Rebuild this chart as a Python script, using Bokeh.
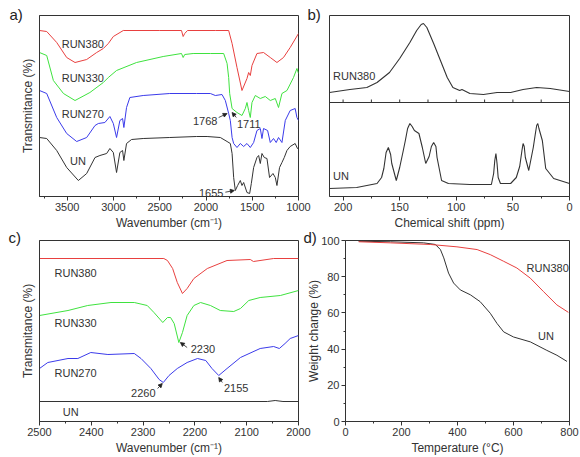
from bokeh.plotting import figure
from bokeh.layouts import row, column
from bokeh.models import Range1d, FixedTicker, Label, Arrow, NormalHead, Span, Title
from bokeh.embed import file_html
from bokeh.resources import INLINE

# ---------------- data ----------------
a_wn_380 = [3800, 3722, 3614, 3506, 3416, 3290, 3182, 3110, 3056, 3002, 2894, 2500, 2265, 2247, 2230, 2200, 1900,
            1755, 1718, 1665, 1611, 1557, 1539, 1521, 1503, 1449, 1378, 1305, 1233, 1162, 1090, 1000]
a_t_380 = [166, 165, 154, 139, 134, 137, 144, 148, 153, 160, 166, 166, 166, 160, 163, 166, 166,
           166, 153, 129, 106, 118, 124, 121, 131, 143, 144, 139, 134, 139, 149, 163]
a_wn_330 = [3800, 3722, 3650, 3541, 3416, 3255, 3110, 3056, 2967, 2751, 2463, 2265, 2247, 2230, 2139, 1953, 1809,
            1772, 1755, 1744, 1718, 1665, 1611, 1575, 1557, 1539, 1521, 1503, 1467, 1413, 1359, 1305, 1251,
            1216, 1179, 1125, 1054, 1017, 1000]
a_t_330 = [144, 141, 116, 103, 96, 104, 114, 119, 126, 134, 140, 143, 139, 142, 143, 143, 143,
           133, 119, 103, 88, 84, 81, 88, 94, 86, 79, 94, 101, 98, 100, 96, 98,
           89, 103, 106, 119, 128, 123]
a_wn_270 = [3800, 3722, 3614, 3506, 3398, 3290, 3200, 3164, 3093, 3039, 3002, 2967, 2931, 2902, 2888, 2859, 2823,
            2679, 2392, 2104, 1953, 1899, 1827, 1791, 1755, 1737, 1718, 1701, 1665, 1629, 1593, 1557, 1521,
            1485, 1449, 1413, 1395, 1378, 1334, 1305, 1270, 1241, 1216, 1179, 1143, 1090, 1036, 1017, 1000]
a_t_270 = [106, 103, 79, 63, 55, 59, 71, 73, 74, 80, 73, 59, 76, 78, 69, 89, 99,
           101, 103, 103, 103, 101, 102, 96, 83, 76, 59, 53, 49, 53, 50, 53, 49,
           54, 66, 68, 58, 68, 66, 54, 58, 54, 59, 54, 76, 86, 88, 79, 76]
a_wn_un = [3800, 3722, 3614, 3506, 3380, 3290, 3200, 3147, 3074, 3039, 3002, 2967, 2931, 2902, 2888, 2859, 2805,
           2679, 2392, 2104, 1988, 1845, 1772, 1737, 1718, 1701, 1683, 1658, 1629, 1611, 1593, 1557, 1528,
           1510, 1485, 1449, 1431, 1413, 1395, 1370, 1341, 1313, 1276, 1251, 1233, 1205, 1179, 1154, 1125,
           1090, 1036, 1011, 1000]
a_t_un = [59, 58, 46, 29, 16, 23, 39, 41, 43, 48, 44, 24, 44, 46, 36, 53, 57,
          58, 59, 60, 60, 59, 55, 53, 43, 19, 6, 11, 16, 11, 14, 4, 3,
          13, 29, 39, 41, 33, 43, 39, 38, 19, 23, 19, 11, 29, 34, 39, 46,
          50, 53, 48, 49]
a_ticks = [3500, 3000, 2500, 2000, 1500, 1000]
a_minor = [3750, 3250, 2750, 2250, 1750, 1250]

b_ppm_380 = [212, 194, 179, 170, 159, 150, 141, 135, 131, 129, 126, 120, 114, 108, 103, 97, 95, 88, 76, 64, 52, 41,
             29, 17, 0]
b_i_380 = [104, 107, 109, 114, 124, 138, 154, 166, 172, 173, 169, 153, 136, 119, 109, 106, 107, 103, 102, 104, 104,
           107, 109, 108, 105]
b_ppm_un = [212, 188, 170, 166, 164, 162, 160, 158, 157, 153, 150, 147, 145, 143, 141, 139, 137, 133, 130, 127,
            124, 122, 120, 118, 117, 113, 107, 88, 69, 67, 66, 65, 64, 63, 61, 52, 47, 44, 42, 41, 40, 39, 36,
            32, 30, 29, 28, 27, 24, 21, 14, 0]
b_i_un = [8, 9, 13, 19, 28, 44, 49, 42, 33, 16, 29, 45, 56, 68, 73, 70, 66, 63, 49, 33,
          40, 50, 54, 50, 39, 16, 13, 12, 12, 23, 36, 43, 33, 19, 13, 13, 19, 30, 46, 53, 50, 39, 26,
          49, 64, 71, 73, 68, 56, 28, 18, 13]
b_ticks = [200, 150, 100, 50, 0]
b_minor = [175, 125, 75, 25]

c_wn_380 = [2500, 2260, 2253, 2243, 2234, 2224, 2215, 2202, 2176, 2138, 2093, 2087, 2048, 2000]
c_t_380 = [163, 163, 161, 153, 139, 128, 133, 143, 153, 161, 162, 160, 163, 163]
c_wn_330 = [2500, 2445, 2407, 2362, 2317, 2292, 2279, 2262, 2253, 2247, 2240, 2231, 2224, 2215, 2202, 2189, 2170,
            2151, 2125, 2112, 2096, 2074, 2035, 2000]
c_t_330 = [106, 111, 116, 119, 119, 116, 109, 99, 104, 104, 98, 79, 89, 106, 116, 119, 116,
           111, 110, 113, 121, 124, 126, 131]
c_wn_270 = [2500, 2484, 2445, 2426, 2401, 2368, 2317, 2304, 2285, 2269, 2261, 2250, 2234, 2215, 2195, 2179, 2167,
            2154, 2138, 2112, 2074, 2048, 2037, 2026, 2016, 2000]
c_t_270 = [53, 59, 63, 63, 69, 67, 68, 63, 53, 42, 39, 46, 53, 59, 63, 61, 53,
           46, 53, 64, 73, 75, 73, 78, 83, 86]
c_wn_un = [2500, 2060, 2045, 2030, 2000]
c_t_un = [20, 20, 21, 20, 20]
c_ticks = [2500, 2400, 2300, 2200, 2100, 2000]
c_minor = [2450, 2350, 2250, 2150, 2050]

d_temp_380 = [47, 160, 303, 398, 470, 517, 565, 612, 660, 707, 755, 796]
d_w_380 = [99.3, 98.7, 97.8, 96.5, 95, 92.2, 88.5, 84.8, 79.2, 71.8, 64.4, 60.3]
d_temp_un = [47, 160, 279, 321, 339, 351, 368, 386, 410, 446, 481, 517, 541, 565, 600, 660, 719, 755, 791]
d_w_un = [99.6, 99.3, 98.7, 97.8, 95, 90.4, 82, 76.5, 72.7, 70, 66.2, 59.8, 54.2, 49.5, 46.7, 44, 39.3, 36.6, 33.2]
d_xticks = [0, 200, 400, 600, 800]
d_xminor = [100, 300, 500, 700]
d_yticks = [0, 20, 40, 60, 80, 100]
d_yminor = [10, 30, 50, 70, 90]

letters = ["a)", "b)", "c)", "d)"]

# ---------------- style ----------------
FONT = "Liberation Sans"
TXT = "#333333"
AX = "#333333"
RED, GREEN, BLUE, BLACK = "#e8403f", "#3fe23f", "#3b3bea", "#333333"


def style_axis(ax, ticks, minor, label):
    ax.ticker = FixedTicker(ticks=ticks, minor_ticks=minor)
    ax.axis_line_color = AX
    ax.major_tick_line_color = AX
    ax.minor_tick_line_color = AX
    ax.major_tick_in = 0
    ax.major_tick_out = 4
    ax.minor_tick_in = 0
    ax.minor_tick_out = 2
    ax.major_label_text_font = FONT
    ax.major_label_text_font_size = "11px"
    ax.major_label_text_color = TXT
    ax.major_label_standoff = 2
    ax.axis_label = label
    ax.axis_label_text_font = FONT
    ax.axis_label_text_font_size = "12px"
    ax.axis_label_text_font_style = "normal"
    ax.axis_label_text_color = TXT
    ax.axis_label_standoff = 2


def blank_left(ax, label):
    ax.ticker = FixedTicker(ticks=[], minor_ticks=[])
    ax.axis_line_color = AX
    ax.major_tick_out = 0
    ax.major_tick_in = 0
    ax.minor_tick_out = 0
    ax.minor_tick_in = 0
    ax.major_label_standoff = 0
    ax.axis_label = label
    ax.axis_label_text_font = FONT
    ax.axis_label_text_font_size = "12px"
    ax.axis_label_text_font_style = "normal"
    ax.axis_label_text_color = TXT
    ax.axis_label_standoff = 5


def letter_title(p, idx, offset, standoff):
    p.title = Title(text=letters[idx], align="left", offset=offset, standoff=standoff,
                    vertical_align="bottom", text_font=FONT, text_font_size="15px",
                    text_font_style="normal", text_color="#222222")


def base(p):
    p.outline_line_color = AX
    p.outline_line_width = 1
    p.outline_line_alpha = 1
    p.border_fill_alpha = 0
    p.grid.visible = False


def lab(p, x, y, text, align="left", size="11px"):
    p.add_layout(Label(x=x, y=y, text=text, text_font=FONT, text_font_size=size, text_color=TXT,
                       text_align=align, text_baseline="middle"))


def arrow(p, x0, y0, x1, y1):
    p.add_layout(Arrow(end=NormalHead(size=4, fill_color="#222222", line_color="#222222", line_width=0.8),
                       x_start=x0, y_start=y0, x_end=x1, y_end=y1, line_width=0.8, line_color="#222222"))


# ---------------- panel a ----------------
fa = figure(width=318, height=232, x_range=Range1d(3800, 1000), y_range=Range1d(0, 181),
            output_backend="svg", toolbar_location=None,
            min_border_left=39, min_border_right=20, min_border_top=15, min_border_bottom=36)
letter_title(fa, 0, -30, -15)
base(fa)
style_axis(fa.xaxis[0], a_ticks, a_minor, "Wavenumber (cm\u207b\u00b9)")
blank_left(fa.yaxis[0], "Transmitance (%)")
fa.line(a_wn_380, a_t_380, line_color=RED, line_width=1)
fa.line(a_wn_330, a_t_330, line_color=GREEN, line_width=1)
fa.line(a_wn_270, a_t_270, line_color=BLUE, line_width=1)
fa.line(a_wn_un, a_t_un, line_color=BLACK, line_width=1)
lab(fa, 3560, 153, "RUN380")
lab(fa, 3560, 119, "RUN330")
lab(fa, 3560, 83, "RUN270")
lab(fa, 3470, 36, "UN")
lab(fa, 1877, 76, "1768", align="right")
arrow(fa, 1863, 79, 1772, 83)
lab(fa, 1665, 73, "1711")
arrow(fa, 1672, 79, 1718, 84)
lab(fa, 1812, 4, "1655", align="right")
arrow(fa, 1791, 4.3, 1694, 6)

# ---------------- panel b ----------------
fb = figure(width=280, height=232, x_range=Range1d(212, 0), y_range=Range1d(0, 181),
            y_axis_location=None, output_backend="svg", toolbar_location=None,
            min_border_left=29, min_border_right=11, min_border_top=15, min_border_bottom=36,
            margin=(0, 0, 0, -18))
letter_title(fb, 1, -22, -14)
base(fb)
style_axis(fb.xaxis[0], b_ticks, b_minor, "Chemical shift (ppm)")
fb.add_layout(Span(location=94, dimension="width", line_color=AX, line_width=1))
fb.segment(x0=b_minor + b_ticks, y0=94, x1=b_minor + b_ticks, y1=97, line_color=AX, line_width=1)
fb.line(b_ppm_380, b_i_380, line_color=BLACK, line_width=1.1)
fb.line(b_ppm_un, b_i_un, line_color=BLACK, line_width=1.1)
lab(fb, 208.8, 121, "RUN380")
lab(fb, 208.8, 21, "UN")

# ---------------- panel c ----------------
fc = figure(width=318, height=231, x_range=Range1d(2500, 2000), y_range=Range1d(0, 181),
            output_backend="svg", toolbar_location=None,
            min_border_left=39, min_border_right=20, min_border_top=14, min_border_bottom=36,
            margin=(-6, 0, 0, 0))
letter_title(fc, 2, -31, -11)
base(fc)
style_axis(fc.xaxis[0], c_ticks, c_minor, "Wavenumber (cm\u207b\u00b9)")
blank_left(fc.yaxis[0], "Transmitance (%)")
fc.line(c_wn_380, c_t_380, line_color=RED, line_width=1)
fc.line(c_wn_330, c_t_330, line_color=GREEN, line_width=1)
fc.line(c_wn_270, c_t_270, line_color=BLUE, line_width=1)
fc.line(c_wn_un, c_t_un, line_color=BLACK, line_width=1)
lab(fc, 2471, 149, "RUN380")
lab(fc, 2471, 99, "RUN330")
lab(fc, 2471, 49, "RUN270")
lab(fc, 2455, 10, "UN")
lab(fc, 2208, 73, "2230")
arrow(fc, 2215, 74, 2228, 79)
lab(fc, 2276, 29, "2260", align="right")
arrow(fc, 2272, 33, 2263, 38)
lab(fc, 2144, 34, "2155")
arrow(fc, 2147, 39, 2154, 44)

# ---------------- panel d ----------------
fd = figure(width=280, height=231, x_range=Range1d(0, 800), y_range=Range1d(0, 100),
            output_backend="svg", toolbar_location=None,
            min_border_left=45, min_border_right=11, min_border_top=14, min_border_bottom=36,
            margin=(-6, 0, 0, -18))
letter_title(fd, 3, -42, -11)
base(fd)
style_axis(fd.xaxis[0], d_xticks, d_xminor, "Temperature (\u00b0C)")
style_axis(fd.yaxis[0], d_yticks, d_yminor, "Weight change (%)")
fd.yaxis[0].axis_label_standoff = -3
fd.line(d_temp_un, d_w_un, line_color=BLACK, line_width=1)
fd.line(d_temp_380, d_w_380, line_color=RED, line_width=1)
lab(fd, 722, 85, "RUN380", align="center")
lab(fd, 716, 47, "UN", align="center")

layout = column(row(fa, fb), row(fc, fd))
open("out.html", "w").write(file_html(layout, INLINE))
